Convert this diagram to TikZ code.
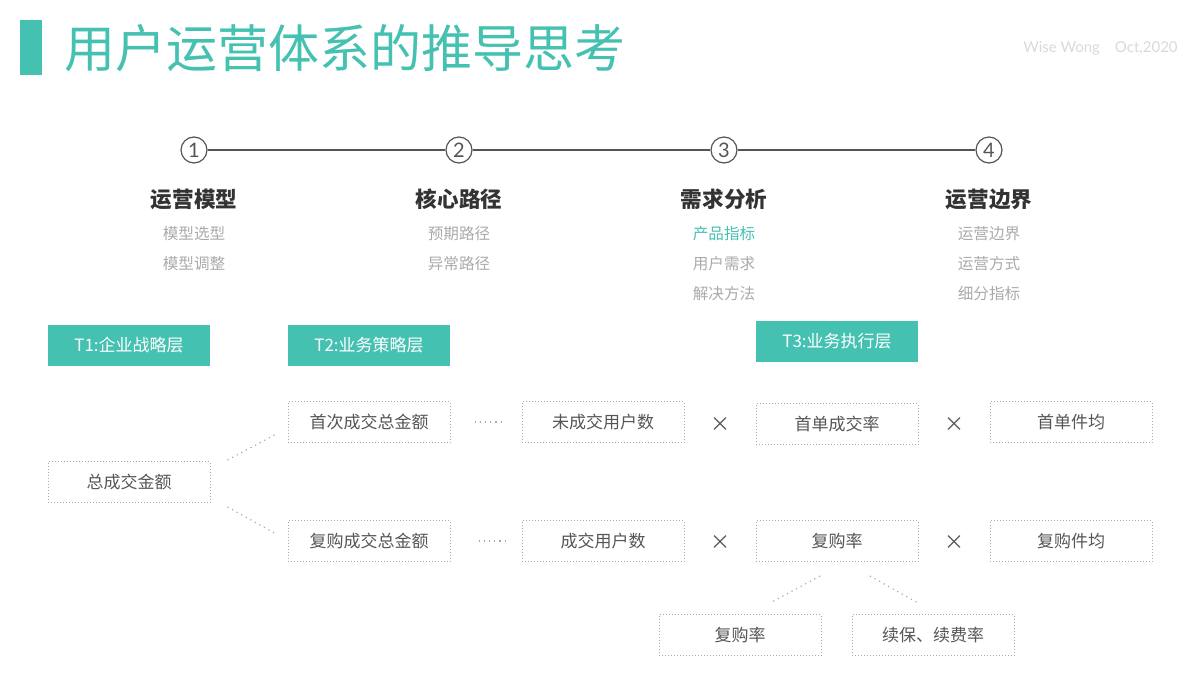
\documentclass[tikz,border=0pt]{standalone}
\usepackage{fontspec}
\setmainfont{Noto Sans CJK SC}
\newfontfamily\latinf{Lato}
\definecolor{teal}{HTML}{45C1B1}
\definecolor{tx}{HTML}{555555}
\definecolor{lg}{HTML}{AAAAAA}
\begin{document}
\begin{tikzpicture}[x=0.5pt,y=-0.5pt,
 box/.style={draw=lg,densely dotted,line width=0.5pt,minimum width=81pt,minimum height=20.5pt,font=\fontsize{8.5}{10}\selectfont,text=tx,inner sep=0pt},
 tag/.style={fill=teal,minimum width=81pt,minimum height=20.5pt,font=\fontsize{8.5}{10}\selectfont,text=white,inner sep=0pt},
 num/.style={circle,draw=tx,fill=white,line width=0.6pt,minimum size=13pt,inner sep=0pt,font=\latinf\fontsize{10}{10}\selectfont,text=tx},
 head/.style={font=\fontsize{10.8}{12}\selectfont\bfseries,text=black!80},
 sub/.style={font=\fontsize{7.8}{9}\selectfont,text=lg},
 lnk/.style={draw=lg,dotted,line width=0.6pt},
 mul/.style={font=\fontsize{10}{10}\selectfont,text=tx}]
\useasboundingbox (0,0) rectangle (1200,675);
\fill[teal] (20,20) rectangle (42,75);
\node[anchor=west,text=teal,font=\fontsize{25.5}{28}\selectfont,inner sep=0] (title) at (64,48) {用户运营体系的推导思考};
\node[anchor=east,text=black!15,font=\latinf\fontsize{7.5}{9}\selectfont,inner sep=0] (auth) at (1178,48) {Wise Wong\quad Oct,2020};
\node[num] (c1) at (194,150) {1};
\node[num] (c2) at (459,150) {2};
\node[num] (c3) at (724,150) {3};
\node[num] (c4) at (989,150) {4};
\draw[tx,line width=0.9pt] (c1)--(c2) (c2)--(c3) (c3)--(c4);
\node[head] (h1) at (194,199) {运营模型};
\node[head] (h2) at (459,199) {核心路径};
\node[head] (h3) at (724,199) {需求分析};
\node[head] (h4) at (989,199) {运营边界};
\node[sub] (s11) at (194,234) {模型选型};
\node[sub] (s12) at (194,264) {模型调整};
\node[sub] (s21) at (459,234) {预期路径};
\node[sub] (s22) at (459,264) {异常路径};
\node[sub,text=teal] (s31) at (724,234) {产品指标};
\node[sub] (s32) at (724,264) {用户需求};
\node[sub] (s33) at (724,294) {解决方法};
\node[sub] (s41) at (989,234) {运营边界};
\node[sub] (s42) at (989,264) {运营方式};
\node[sub] (s43) at (989,294) {细分指标};
\node[tag] (t1) at (129,345) {T1:企业战略层};
\node[tag] (t2) at (369,345) {T2:业务策略层};
\node[tag] (t3) at (837,341) {T3:业务执行层};
\node[box] (total) at (129,482) {总成交金额};
\node[box] (a1) at (369,422) {首次成交总金额};
\node[box] (a2) at (603,422) {未成交用户数};
\node[box] (a3) at (837,424) {首单成交率};
\node[box] (a4) at (1071,422) {首单件均};
\node[box] (b1) at (369,541) {复购成交总金额};
\node[box] (b2) at (603,541) {成交用户数};
\node[box] (b3) at (837,541) {复购率};
\node[box] (b4) at (1071,541) {复购件均};
\node[box] (c31) at (740,635) {复购率};
\node[box] (c32) at (933,635) {续保、续费率};
\node[mul] (m1) at (720,425) {×};
\node[mul] (m2) at (954,425) {×};
\node[mul] (m3) at (720,543) {×};
\node[mul] (m4) at (954,543) {×};
\draw[lnk] ([shift={(17,-22)}]total.east) -- ([shift={(-13,13)}]a1.west);
\draw[lnk] ([shift={(17,25)}]total.east) -- ([shift={(-13,-8)}]b1.west);
\draw[lnk] ([xshift=12]a1.east) -- ([xshift=-10]a2.west);
\draw[lnk] ([xshift=14]b1.east) -- ([xshift=-8]b2.west);
\draw[lnk] ([shift={(-17,14)}]b3.south) -- ([shift={(30,-11)}]c31.north);
\draw[lnk] ([shift={(33,14)}]b3.south) -- ([shift={(-15,-11)}]c32.north);
\end{tikzpicture}
\end{document}
